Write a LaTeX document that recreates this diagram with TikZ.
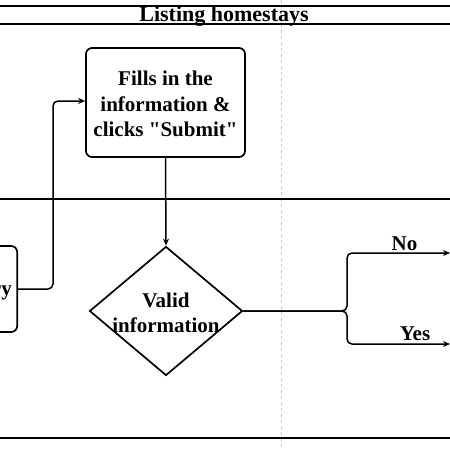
\documentclass[tikz,border=0pt]{standalone}
\usepackage{fontspec}
\setmainfont{Liberation Serif}[Ligatures=TeXOff]
\usetikzlibrary{arrows.meta,shapes.geometric}
\begin{document}
\begin{tikzpicture}[x=1pt,y=-1pt,
  lane/.style={line width=1.5pt,black},
  conn/.style={line width=1.5pt,black,rounded corners=5pt},
  arr/.style={-{Stealth[length=7pt,width=6pt]}},
  procbox/.style={draw,line width=1.7pt,rounded corners=6pt,inner sep=0pt},
  lbl/.style={font=\bfseries\fontsize{21}{25.5}\selectfont,inner sep=0pt,align=center},
]
\useasboundingbox (0,0) rectangle (450,450);
\fill[white] (0,0) rectangle (450,450);
% swimlane lines
\draw[gray!45,line width=1.2pt,dash pattern=on 3pt off 3pt] (281.5,0) -- (281.5,450);
\draw[lane] (0,6) -- (450,6);
\draw[lane] (0,24) -- (450,24);
\draw[lane] (0,199) -- (450,199);
\draw[line width=2pt] (0,438) -- (450,438);
\node[lbl,font=\bfseries\fontsize{22}{26}\selectfont,anchor=base] (title) at (224,21.5) {Listing homestays};
% left (cut-off) box
\node[procbox,minimum width=80pt,minimum height=86pt,anchor=east] (lbox) at (18,289) {};
\node[lbl,anchor=base east] (ltext) at (12,295) {ry};
% process box
\node[procbox,minimum width=159pt,minimum height=109pt] (fill) at (165.5,102.5) {};
\node[lbl] (filltext) at (165.5,104) {Fills in the\\information \&\\clicks "Submit"};
% decision
\node[draw,diamond,line width=1.7pt,minimum width=153pt,minimum height=129pt,inner sep=0pt,aspect=1.19] (dia) at (166,311) {};
\node[lbl] (diatext) at (166,313) {Valid\\information};
% connectors
\coordinate (bend1) at (53,101);
\coordinate (junc) at (347,311);
\coordinate (noend) at (450,253);
\coordinate (yesend) at (450,344);
\draw[conn,arr] (lbox.east) -- (53,289) |- (fill.west |- bend1);
\draw[conn,arr] (fill.south) -- (dia.north);
\draw[conn,arr] (dia.east) -- (junc) |- (noend);
\draw[conn,arr] (dia.east) -- (junc) |- (yesend);
\node[lbl,anchor=base] (no) at (404.5,250) {No};
\node[lbl,anchor=base] (yes) at (415,340) {Yes};
\end{tikzpicture}
\end{document}
